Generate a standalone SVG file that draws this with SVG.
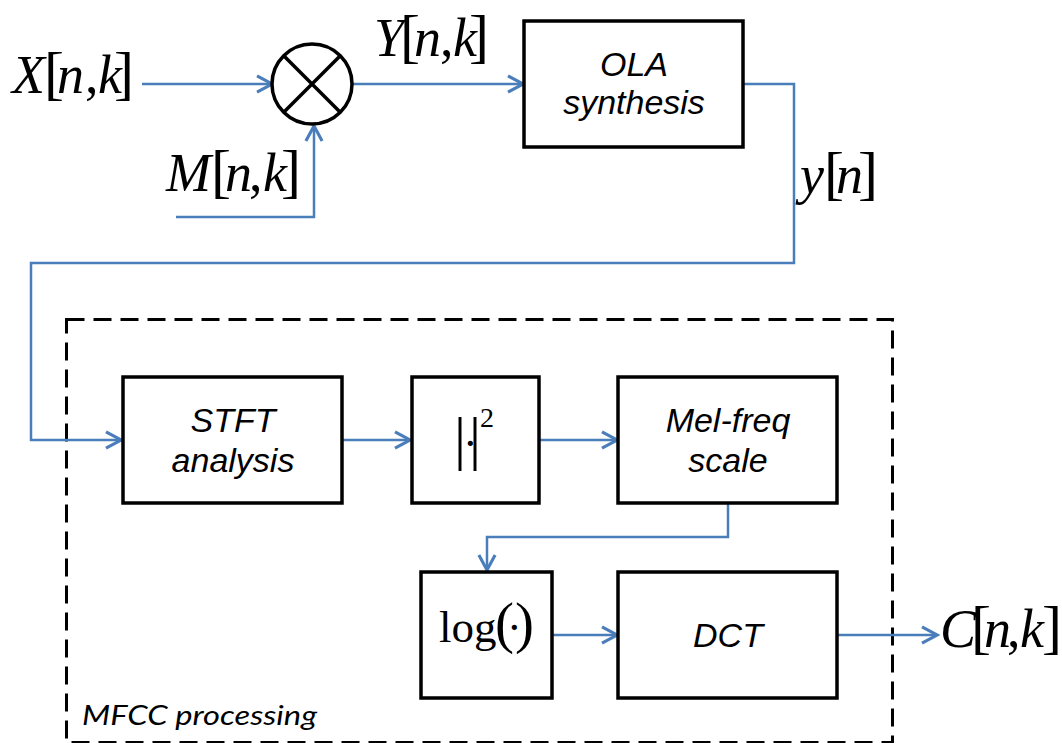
<svg xmlns="http://www.w3.org/2000/svg" width="1062" height="743" viewBox="0 0 1062 743">
<style>
.blk{fill:#fff;stroke:#000;stroke-width:3.5}
.lbl{font-family:"Liberation Sans",Arial,sans-serif;font-style:italic;font-size:34px;text-anchor:middle;fill:#000}
.m{font-family:"Liberation Serif","Times New Roman",serif;fill:#000;font-size:54px}
.i{font-style:italic}
.br{font-size:60px;font-style:normal}
.con{fill:none;stroke:#4A7EBB;stroke-width:2.5}
.dash{fill:none;stroke:#000;stroke-width:3;stroke-dasharray:18 9}
</style>
<defs>
<marker id="ah" markerUnits="userSpaceOnUse" markerWidth="20" markerHeight="20" viewBox="-14 -8 16 16" refX="0" refY="0" orient="auto">
<path d="M-12,-6.5 L0,0 L-12,6.5" fill="none" stroke="#4A7EBB" stroke-width="2.5"/>
</marker>
</defs>
<rect class="dash" x="66.5" y="319.5" width="826" height="423"/>
<g id="connectors">
<path class="con" d="M142,84 H272" marker-end="url(#ah)"/>
<path class="con" d="M176,217 H314 V126" marker-end="url(#ah)"/>
<path class="con" d="M352,84 H523" marker-end="url(#ah)"/>
<path class="con" d="M744,84 H794 V263 H31 V440 H121" marker-end="url(#ah)"/>
<path class="con" d="M343,440 H410" marker-end="url(#ah)"/>
<path class="con" d="M540,440 H617" marker-end="url(#ah)"/>
<path class="con" d="M728,504 V537 H487 V570" marker-end="url(#ah)"/>
<path class="con" d="M553,635 H617" marker-end="url(#ah)"/>
<path class="con" d="M838,635 H937" marker-end="url(#ah)"/>
</g>
<g id="mult">
<circle cx="312" cy="84" r="40" fill="#fff" stroke="#000" stroke-width="3.5"/>
<path d="M284,56 L340,112 M340,56 L284,112" stroke="#000" stroke-width="3.5"/>
</g>
<g id="ola">
<rect class="blk" x="524" y="21" width="219" height="126"/>
<text class="lbl" x="634" y="76">OLA</text>
<text class="lbl" x="634" y="114">synthesis</text>
</g>
<g id="stft">
<rect class="blk" x="123" y="377" width="219" height="126"/>
<text class="lbl" x="233" y="432">STFT</text>
<text class="lbl" x="233" y="472">analysis</text>
</g>
<g id="abs2">
<rect class="blk" x="412" y="377" width="127" height="126"/>
<text class="m" y="458"><tspan class="br" x="454" font-size="54">|</tspan><tspan x="463" font-size="44">·</tspan><tspan class="br" x="469" font-size="54">|</tspan><tspan x="480" y="427" font-size="28">2</tspan></text>
</g>
<g id="mel">
<rect class="blk" x="618" y="377" width="219" height="126"/>
<text class="lbl" x="728" y="432">Mel-freq</text>
<text class="lbl" x="728" y="472">scale</text>
</g>
<g id="log">
<rect class="blk" x="421" y="572" width="131" height="126"/>
<text class="m" y="642"><tspan x="439" font-size="45">log</tspan><tspan x="495" font-size="57">(</tspan><tspan x="507" font-size="44">·</tspan><tspan x="515" font-size="57">)</tspan></text>
</g>
<g id="dct">
<rect class="blk" x="618" y="572" width="219" height="126"/>
<text class="lbl" x="728" y="647">DCT</text>
</g>
<g id="labels">
<text class="m" y="93"><tspan class="i" x="12">X</tspan><tspan class="br" x="44">[</tspan><tspan class="i" x="57">n</tspan><tspan x="85">,</tspan><tspan class="i" x="98">k</tspan><tspan class="br" x="114">]</tspan></text>
<text class="m" y="56"><tspan class="i" x="374">Y</tspan><tspan class="br" x="400">[</tspan><tspan class="i" x="414">n</tspan><tspan x="440">,</tspan><tspan class="i" x="453">k</tspan><tspan class="br" x="469">]</tspan></text>
<text class="m" y="191"><tspan class="i" x="166">M</tspan><tspan class="br" x="211">[</tspan><tspan class="i" x="225">n</tspan><tspan x="249">,</tspan><tspan class="i" x="263">k</tspan><tspan class="br" x="281">]</tspan></text>
<text class="m" y="193"><tspan class="i" x="800">y</tspan><tspan class="br" x="824">[</tspan><tspan class="i" x="836">n</tspan><tspan class="br" x="858">]</tspan></text>
<text class="m" y="647"><tspan class="i" x="940">C</tspan><tspan class="br" x="971">[</tspan><tspan class="i" x="984">n</tspan><tspan x="1007">,</tspan><tspan class="i" x="1020">k</tspan><tspan class="br" x="1042">]</tspan></text>
<text x="82" y="725" font-family="Lato,'Open Sans',sans-serif" font-style="italic" font-size="27" textLength="235" lengthAdjust="spacingAndGlyphs">MFCC processing</text>
</g>
</svg>
